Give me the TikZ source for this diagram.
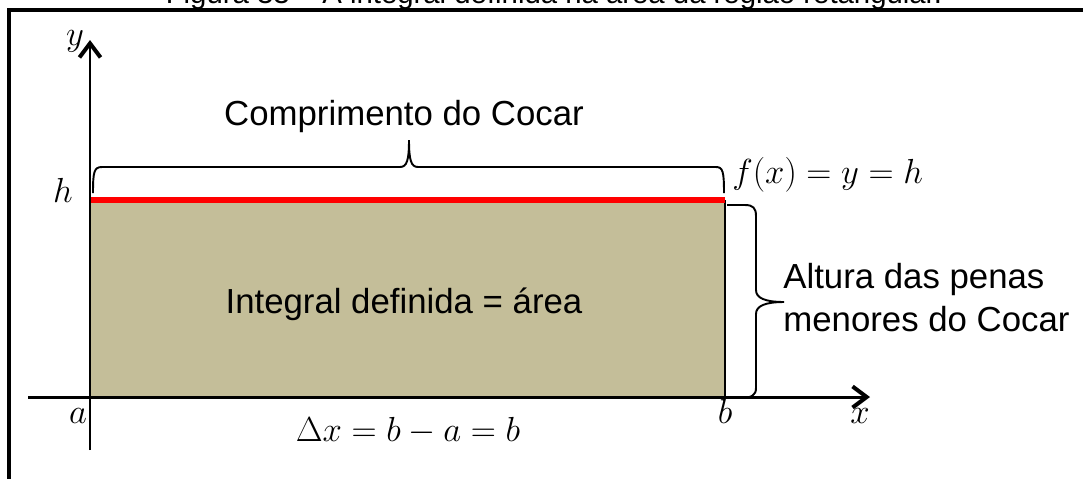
\RequirePackage{fix-cm}
\documentclass[tikz,border=0pt]{standalone}
\usepackage[no-math]{fontspec}
\setmainfont{Liberation Sans}
\usepackage{amsmath}
\usetikzlibrary{arrows.meta, positioning}
\definecolor{khaki1}{RGB}{196, 190, 153}
\definecolor{red1}{RGB}{255, 0, 0}

\begin{document}
\begin{tikzpicture}[x=0.02cm, y=-0.02cm,
  axis/.style={line width=1.7pt, -{Straight Barb[length=8pt, width=12pt, line width=2.3pt]}},
  lbl/.style={inner sep=0pt, anchor=base, font=\fontsize{19.8}{24}\selectfont},
  brc/.style={line width=1.1pt}]
  \useasboundingbox (0,0) rectangle (1083,478);

  % caption, cut off by the page
  \node[anchor=base, inner sep=0pt, font=\fontsize{16.7}{20}\selectfont] (cap) at (554,3) {Figura 33 – A integral definida na área da região retangular.};
  \draw[line width=2.6pt] (9,500) -- (9,10) -- (1100,10);

  % region under f(x) = h
  \fill[khaki1] (90,200) rectangle (725,397);
  \draw[axis] (28,397) -- (870,397);
  \draw[axis] (90,450) -- (90,40);
  \draw[line width=1.7pt] (725,200) -- (725,397);
  \draw[red1, line width=3pt] (91,200) -- (725,200);

  % braces
  \draw[brc] (93,193) .. controls (93,172) and (94,167) .. (102,167) -- (400,167)
    .. controls (407,167) and (409,160) .. (409,140)
    .. controls (409,160) and (411,167) .. (418,167) -- (716,167)
    .. controls (723,167) and (724,172) .. (724,193);
  \draw[brc] (727,205) -- (745,205) .. controls (753,205) and (756,208) .. (756,216) -- (756,290)
    .. controls (756,298) and (765,302) .. (784,302)
    .. controls (765,302) and (756,306) .. (756,314) -- (756,388)
    .. controls (756,395) and (752,398) .. (740,398) -- (728,398);

  % labels
  \node[lbl] (len) at (404,125) {Comprimento do Cocar};
  \node[lbl] (area) at (404,313) {Integral definida = área};
  \node[lbl, anchor=base west] (alt1) at (783,288) {Altura das penas};
  \node[lbl, anchor=base west] (alt2) at (783,331) {menores do Cocar};
  \node[lbl] (ylab) at (75,45) {$y$};
  \node[lbl] (hlab) at (63,202) {$h$};
  \node[lbl] (alab) at (78,423) {$a$};
  \node[lbl] (blab) at (725,423) {$b$};
  \node[lbl] (xlab) at (860,423) {$x$};
  \node[lbl, anchor=base west] (flab) at (732,183) {$f(x) = y = h$};
  \node[lbl] (dlab) at (408,441) {$\Delta x = b - a = b$};
\end{tikzpicture}
\end{document}
